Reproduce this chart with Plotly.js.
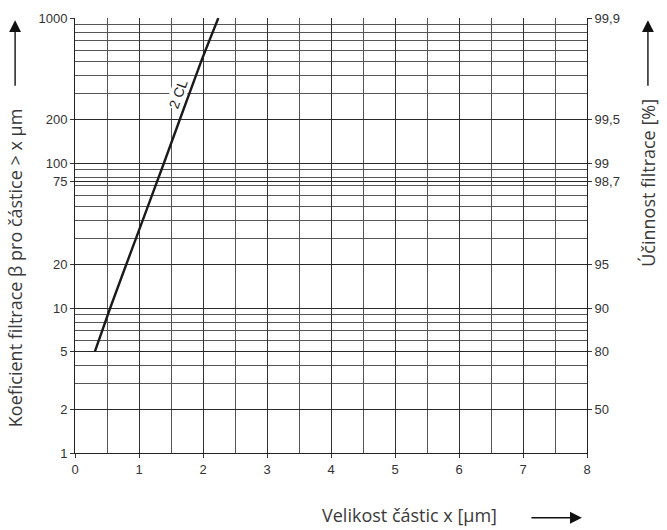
<!DOCTYPE html>
<html>
<head>
<meta charset="utf-8">
<script src="https://cdn.plot.ly/plotly-3.0.1.min.js"></script>
<style>html,body{margin:0;padding:0;background:#fff;}#chart{width:667px;height:530px;}</style>
</head>
<body>
<div id="chart"></div>
<script>
// Curve "2 CL": particle size x [µm] vs. filtration coefficient beta
const sizeX = [0.31, 0.55, 0.95, 1.39, 1.97, 2.24];
const betaY = [5, 10, 30, 100, 500, 1000];

// Left axis labels
const betaTicks = [1, 2, 5, 10, 20, 75, 100, 200, 1000];
// Right axis: efficiency labels at corresponding beta values
const effTickVals = [2, 5, 10, 20, 75, 100, 200, 1000];
const effTickText = ['50', '80', '90', '95', '98,7', '99', '99,5', '99,9'];
// Horizontal grid values
const gridVals = [1,2,3,4,5,6,7,8,9,10,20,30,40,50,60,70,75,80,90,100,200,300,400,500,600,700,800,900,1000];
const xTicks = [0,1,2,3,4,5,6,7,8];

const tickFont = {family: 'Liberation Sans, Arial, sans-serif', size: 13, color: '#333'};
const titleFont = {family: 'Open Sans, Noto Sans, sans-serif', size: 18, color: '#3a3a3a'};

const traces = [
  {x: sizeX, y: betaY, mode: 'lines', line: {color: '#1a1a1a', width: 2.4, shape: 'spline', smoothing: 0.6}, hoverinfo: 'skip', xaxis: 'x', yaxis: 'y'},
  {x: [0], y: [1], mode: 'markers', marker: {opacity: 0}, hoverinfo: 'skip', xaxis: 'x', yaxis: 'y2'}
];

const layout = {
  width: 667, height: 530,
  margin: {l: 75, r: 80, t: 18, b: 77},
  paper_bgcolor: '#fff', plot_bgcolor: '#fff',
  showlegend: false,
  xaxis: {
    range: [0, 8], tickvals: xTicks, ticktext: xTicks.map(String),
    showgrid: true, gridcolor: '#333', gridwidth: 1,
    minor: {dtick: 0.5, showgrid: true, gridcolor: '#555', gridwidth: 1, ticks: ''},
    ticks: 'outside', ticklen: 4, tickcolor: '#333',
    showline: true, linecolor: '#222', linewidth: 1, mirror: false,
    zeroline: false, tickfont: tickFont
  },
  yaxis: {
    type: 'log', range: [0, 3],
    tickvals: betaTicks, ticktext: betaTicks.map(String),
    showgrid: true, gridcolor: '#2a2a2a', gridwidth: 1,
    minor: {tickmode: 'array', tickvals: gridVals, showgrid: true, gridcolor: '#555', gridwidth: 1, ticks: ''},
    ticks: 'outside', ticklen: 4, tickcolor: '#333',
    showline: true, linecolor: '#222', linewidth: 1,
    zeroline: false, tickfont: tickFont
  },
  yaxis2: {
    type: 'log', range: [0, 3], overlaying: 'y', side: 'right',
    tickvals: effTickVals, ticktext: effTickText,
    showgrid: false, ticks: 'outside', ticklen: 4, tickcolor: '#333',
    showline: true, linecolor: '#222', linewidth: 1,
    zeroline: false, tickfont: tickFont
  },
  annotations: [
    {text: '2 CL', xref: 'x', yref: 'y', x: 1.61, y: Math.log10(300), showarrow: false,
     xanchor: 'center', yanchor: 'middle',
     textangle: -70, bgcolor: '#fff', borderpad: 0,
     font: {family: 'Liberation Sans, Arial, sans-serif', size: 14, color: '#222'}},
    {text: 'Koeficient filtrace β pro částice > x µm', xref: 'paper', yref: 'paper',
     x: -0.117, y: 0.425, xanchor: 'center', yanchor: 'middle', showarrow: false, textangle: -90, font: titleFont},
    {text: 'Účinnost filtrace [%]', xref: 'paper', yref: 'paper',
     x: 1.119, y: 0.621, xanchor: 'center', yanchor: 'middle', showarrow: false, textangle: -90, font: titleFont},
    {text: 'Velikost částic x [µm]', xref: 'paper', yref: 'paper',
     x: 0.654, y: -0.143, xanchor: 'center', yanchor: 'middle', showarrow: false, font: titleFont},
    {text: '', xref: 'paper', yref: 'paper', x: -0.117, y: 0.995, ax: 0, ay: 67,
     showarrow: true, arrowhead: 2, arrowsize: 1.7, arrowwidth: 1.4, arrowcolor: '#111'},
    {text: '', xref: 'paper', yref: 'paper', x: 1.119, y: 0.995, ax: 0, ay: 67,
     showarrow: true, arrowhead: 2, arrowsize: 1.7, arrowwidth: 1.4, arrowcolor: '#111'},
    {text: '', xref: 'paper', yref: 'paper', x: 0.990, y: -0.149, ax: -52, ay: 0,
     showarrow: true, arrowhead: 2, arrowsize: 1.7, arrowwidth: 1.4, arrowcolor: '#111'}
  ]
};

Plotly.newPlot('chart', traces, layout, {staticPlot: true, displayModeBar: false});
</script>
</body>
</html>
